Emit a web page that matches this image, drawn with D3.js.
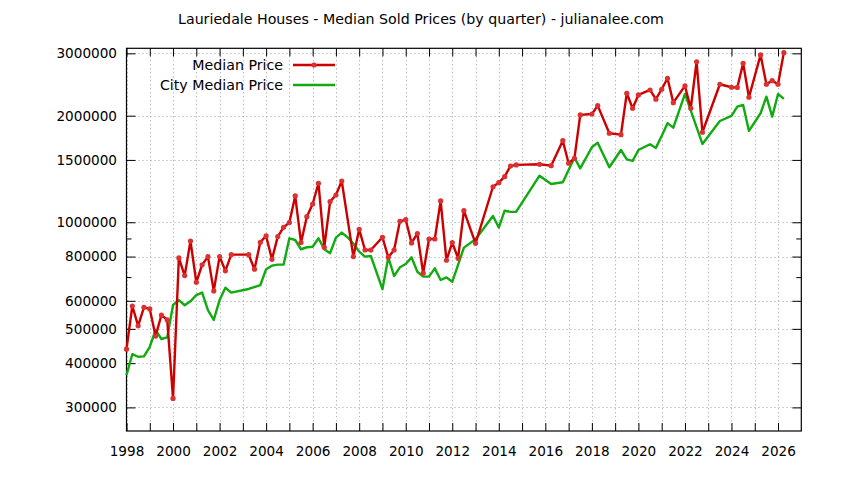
<!DOCTYPE html>
<html>
<head>
<meta charset="utf-8">
<script src="https://cdn.jsdelivr.net/npm/d3@7"></script>
<style>
  html, body { margin: 0; padding: 0; background: #fff; }
  svg { display: block; font-family: "DejaVu Sans", sans-serif; }
</style>
</head>
<body>
<svg id="chart" width="844" height="480"></svg>
<script>
// ---- data ----
const titleText = "Lauriedale Houses - Median Sold Prices (by quarter) - julianalee.com";
const seriesNames = ["Median Price", "City Median Price"];

const medianDates = [1998.0,1998.25,1998.5,1998.75,1999.0,1999.25,1999.5,1999.75,
  2000.0,2000.25,2000.5,2000.75,2001.0,2001.25,2001.5,2001.75,2002.0,2002.25,2002.5,
  2003.25,2003.5,2003.75,2004.0,2004.25,2004.5,2004.75,2005.0,2005.25,2005.5,2005.75,
  2006.0,2006.25,2006.5,2006.75,2007.0,2007.25,2007.75,2008.0,2008.25,2008.5,
  2009.0,2009.25,2009.5,2009.75,2010.0,2010.25,2010.5,2010.75,2011.0,2011.25,2011.5,2011.75,
  2012.0,2012.25,2012.5,2013.0,2013.75,2014.0,2014.25,2014.5,2014.75,2015.75,2016.25,
  2016.75,2017.0,2017.25,2017.5,2018.0,2018.25,2018.75,2019.25,2019.5,2019.75,2020.0,
  2020.5,2020.75,2021.0,2021.25,2021.5,2022.0,2022.25,2022.5,2022.75,2023.5,2024.0,
  2024.25,2024.5,2024.75,2025.25,2025.5,2025.75,2026.0,2026.25];
const medianPrices = [438000,580000,510000,575000,569000,477000,547000,530000,
  318000,793000,707000,885000,677000,758000,800000,640000,800000,729000,810000,
  810000,737000,878000,915000,786000,911000,968000,998000,1187000,876000,1037000,
  1126000,1289000,850000,1144000,1194000,1308000,800000,955000,835000,835000,
  907000,796000,835000,1006000,1017000,874000,929000,718000,897000,897000,1149000,781000,
  876000,791000,1078000,872000,1260000,1294000,1345000,1442000,1452000,1458000,1445000,
  1700000,1468000,1516000,2010000,2022000,2135000,1784000,1768000,2314000,2099000,2289000,
  2364000,2226000,2375000,2551000,2177000,2427000,2099000,2840000,1796000,2454000,2406000,
  2403000,2813000,2255000,2969000,2454000,2512000,2454000,3014000];

const cityDates = [1998.0,1998.25,1998.5,1998.75,1999.0,1999.25,1999.5,1999.75,
  2000.0,2000.25,2000.5,2000.75,2001.0,2001.25,2001.5,2001.75,2002.0,2002.25,2002.5,
  2003.25,2003.75,2004.0,2004.25,2004.5,2004.75,2005.0,2005.25,2005.5,2005.75,
  2006.0,2006.25,2006.5,2006.75,2007.0,2007.25,2007.5,2007.75,2008.0,2008.25,2008.5,
  2009.0,2009.25,2009.5,2009.75,2010.0,2010.25,2010.5,2010.75,2011.0,2011.25,2011.5,2011.75,
  2012.0,2012.5,2013.0,2013.75,2014.0,2014.25,2014.5,2014.75,2015.75,2016.25,2016.75,
  2017.25,2017.5,2018.0,2018.25,2018.75,2019.25,2019.5,2019.75,2020.0,2020.5,2020.75,
  2021.0,2021.25,2021.5,2022.0,2022.75,2023.5,2024.0,2024.25,2024.5,2024.75,2025.25,
  2025.5,2025.75,2026.0,2026.25];
const cityPrices = [370000,424000,417000,418000,445000,496000,468000,473000,
  584000,603000,583000,598000,623000,633000,565000,530000,603000,653000,633000,
  648000,664000,737000,754000,759000,759000,901000,891000,839000,850000,
  853000,901000,839000,818000,905000,935000,907000,870000,826000,800000,803000,
  647000,796000,705000,746000,762000,796000,725000,702000,702000,741000,687000,699000,
  679000,848000,895000,1042000,966000,1078000,1070000,1071000,1354000,1283000,1297000,
  1522000,1420000,1629000,1678000,1430000,1600000,1506000,1490000,1600000,1661000,1622000,
  1753000,1905000,1850000,2304000,1664000,1932000,1997000,2121000,2145000,1811000,2032000,
  2263000,1988000,2304000,2230000];

const xTickYears = [1998,1999,2000,2001,2002,2003,2004,2005,2006,2007,2008,2009,2010,2011,
  2012,2013,2014,2015,2016,2017,2018,2019,2020,2021,2022,2023,2024,2025,2026];
const xLabelYears = [1998,2000,2002,2004,2006,2008,2010,2012,2014,2016,2018,2020,2022,2024,2026];
const yMajorTicks = [300000,400000,500000,600000,800000,1000000,1500000,2000000,3000000];
const yMinorTicks = [700000,900000];

// ---- layout ----
const svg = d3.select("#chart");
const L = 126.5, R = 801.3, T = 48.3, B = 431;
const RED = "#cc0000", GREEN = "#11aa11";

const x = d3.scaleLinear().domain([1998, 2027]).range([L, R]);
const y = d3.scaleLog().domain([257300, 3100000]).range([B, T]);

// grid
const grid = svg.append("g").attr("stroke", "#a0a0a0").attr("stroke-width", 1)
  .attr("stroke-dasharray", "1,3").attr("fill", "none");
xTickYears.forEach(t => {
  grid.append("line").attr("x1", Math.round(x(t)) + 0.5).attr("x2", Math.round(x(t)) + 0.5)
    .attr("y1", T).attr("y2", B);
});
yMajorTicks.forEach(t => {
  grid.append("line").attr("y1", Math.round(y(t)) + 0.5).attr("y2", Math.round(y(t)) + 0.5)
    .attr("x1", L).attr("x2", R);
});

// axes (ticks inward, mirrored)
const fmtX = d => xLabelYears.includes(d) ? String(d) : "";
function styleAxis(g) {
  g.selectAll("path.domain").remove();
  g.selectAll("line").attr("stroke", "#000").attr("stroke-width", 1);
  g.selectAll("text").attr("fill", "#000").style("font-size", "13.6px")
    .style("font-family", "'DejaVu Sans', sans-serif");
}
svg.append("g").attr("transform", `translate(0,${B})`)
  .call(d3.axisBottom(x).tickValues(xTickYears).tickFormat(fmtX).tickSizeInner(-8).tickSizeOuter(0).tickPadding(15))
  .call(styleAxis);
svg.append("g").attr("transform", `translate(0,${T})`)
  .call(d3.axisTop(x).tickValues(xTickYears).tickFormat("").tickSizeInner(-8).tickSizeOuter(0))
  .call(styleAxis);
svg.append("g").attr("transform", `translate(${L},0)`)
  .call(d3.axisLeft(y).tickValues(yMajorTicks).tickFormat(d3.format("d")).tickSizeInner(-9).tickSizeOuter(0).tickPadding(9.5))
  .call(styleAxis);
svg.append("g").attr("transform", `translate(${L},0)`)
  .call(d3.axisLeft(y).tickValues(yMinorTicks).tickFormat("").tickSizeInner(-5).tickSizeOuter(0))
  .call(styleAxis);
svg.append("g").attr("transform", `translate(${R},0)`)
  .call(d3.axisRight(y).tickValues(yMajorTicks).tickFormat("").tickSizeInner(-9).tickSizeOuter(0))
  .call(styleAxis);
svg.append("g").attr("transform", `translate(${R},0)`)
  .call(d3.axisRight(y).tickValues(yMinorTicks).tickFormat("").tickSizeInner(-5).tickSizeOuter(0))
  .call(styleAxis);

// border
svg.append("rect").attr("x", L).attr("y", T).attr("width", R - L).attr("height", B - T)
  .attr("fill", "none").attr("stroke", "#000").attr("stroke-width", 1.2);

// series
const line = d3.line().x(d => x(d[0])).y(d => y(d[1]));
const cityData = cityDates.map((d, i) => [d, cityPrices[i]]);
const medData = medianDates.map((d, i) => [d, medianPrices[i]]);

svg.append("path").datum(cityData).attr("d", line).attr("fill", "none")
  .attr("stroke", GREEN).attr("stroke-width", 2.4).attr("stroke-linejoin", "round");
svg.append("path").datum(medData).attr("d", line).attr("fill", "none")
  .attr("stroke", RED).attr("stroke-width", 2.4).attr("stroke-linejoin", "round");
svg.append("g").selectAll("circle").data(medData).join("circle")
  .attr("cx", d => x(d[0])).attr("cy", d => y(d[1])).attr("r", 2.6)
  .attr("fill", "#dd3030");

// legend
const leg = svg.append("g").style("font-size", "14.2px");
const legY = [65, 85];
const legColors = [RED, GREEN];
seriesNames.forEach((n, i) => {
  leg.append("text").attr("x", 283).attr("y", legY[i]).attr("dy", "0.36em")
    .attr("text-anchor", "end").attr("fill", "#000").text(n);
  leg.append("line").attr("x1", 293).attr("x2", 335).attr("y1", legY[i]).attr("y2", legY[i])
    .attr("stroke", legColors[i]).attr("stroke-width", 2.4);
});
leg.append("circle").attr("cx", 314).attr("cy", legY[0]).attr("r", 2.6).attr("fill", "#dd3030");

// title
svg.append("text").attr("x", 421).attr("y", 24).attr("text-anchor", "middle")
  .style("font-size", "14.2px").attr("fill", "#000").text(titleText);
</script>
</body>
</html>
